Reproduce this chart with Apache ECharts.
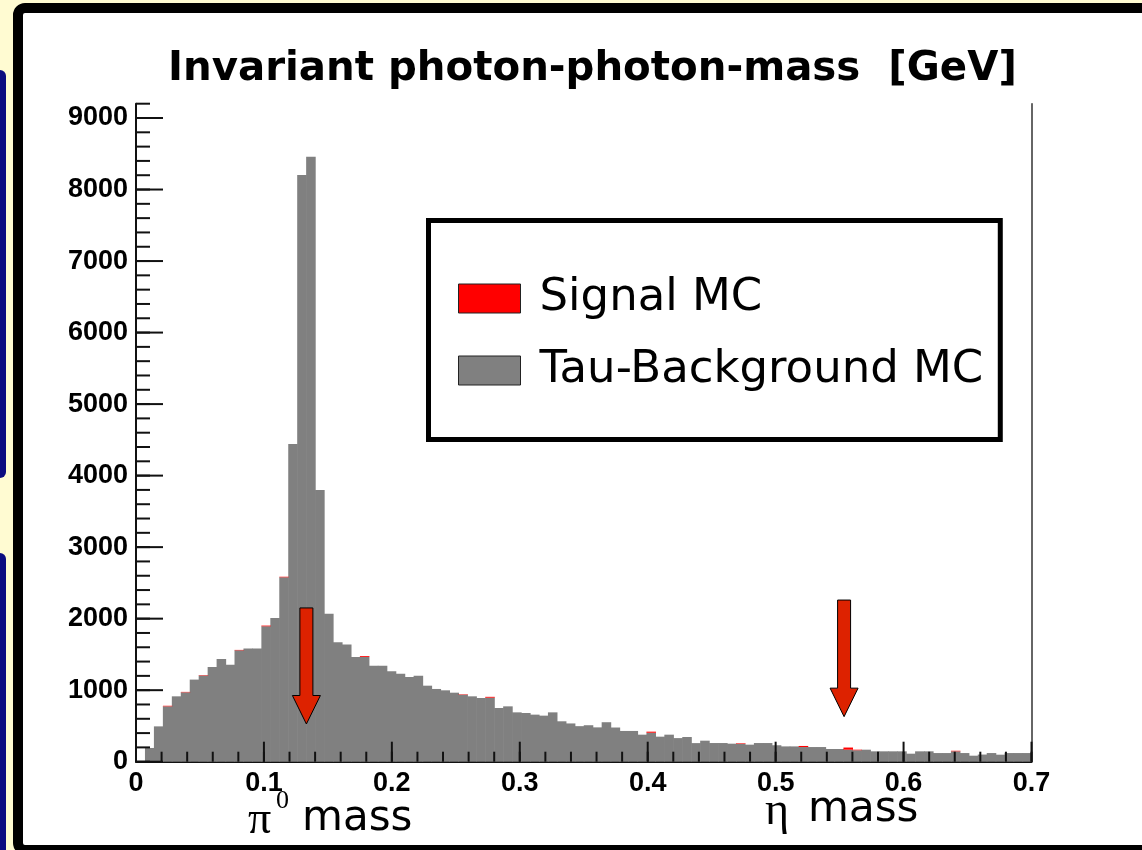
<!DOCTYPE html>
<html><head><meta charset="utf-8">
<script src="https://cdn.jsdelivr.net/npm/echarts@6/dist/echarts.min.js"></script>
<style>
html,body{margin:0;padding:0;width:1142px;height:850px;overflow:hidden;background:#fffbd2;}
#p1{position:absolute;left:0;top:70px;width:6px;height:408px;background:#0c0c80;border-radius:0 6px 6px 0;}
#p2{position:absolute;left:0;top:553px;width:6px;height:320px;background:#0c0c80;border-radius:0 6px 0 0;}
#frame{position:absolute;left:13px;top:3px;width:1200px;height:832px;border:10px solid #000;border-radius:12px;background:#fff;}
#chart{position:absolute;left:0;top:0;width:1142px;height:850px;}
</style></head>
<body>
<div id="p1"></div><div id="p2"></div><div id="frame"></div>
<div id="chart"></div>
<script>
// ---- data ----
const binWidth = 0.007; // GeV per bin, 100 bins from 0 to 0.7
const background = [
  0,192,494,774,914,970,1148,1204,1325,1437,
  1357,1557,1581,1581,1893,2010,2578,4442,8203,8459,
  3800,2070,1670,1637,1465,1465,1343,1343,1263,1231,
  1185,1203,1063,1017,998,965,937,914,891,895,
  751,774,690,681,658,644,690,565,535,497,
  510,480,552,478,430,430,378,405,350,378,
  330,345,260,294,261,261,252,250,238,261,
  261,230,214,214,205,205,205,178,178,168,
  160,168,145,145,145,145,112,145,145,121,
  121,145,121,84,100,121,98,121,121,121
];
const signal = [
  0,0,0,8,0,6,0,6,0,0,
  0,6,0,0,10,0,8,0,0,0,
  0,0,0,0,0,12,0,0,0,0,
  0,0,0,0,0,0,6,0,0,12,
  0,0,0,0,0,0,0,0,0,0,
  0,0,0,0,0,0,0,15,0,0,
  0,0,0,0,0,0,0,8,0,0,
  0,0,0,0,15,0,0,0,0,30,
  8,0,0,0,0,0,0,0,0,0,
  0,8,0,0,0,0,0,0,0,0
];
const xMajorTicks = [0,0.1,0.2,0.3,0.4,0.5,0.6,0.7];
const xTickLabels = ['0','0.1','0.2','0.3','0.4','0.5','0.6','0.7'];
const yMajorTicks = [0,1000,2000,3000,4000,5000,6000,7000,8000,9000];
const yTickLabels = ['0','1000','2000','3000','4000','5000','6000','7000','8000','9000'];
const xMinorStep = 0.02, yMinorStep = 200;
// arrow annotations: [x position, top value, tip value]
const arrows = [[0.1332,2150,527],[0.5535,2260,630]];
const seriesNames = ['Signal MC','Tau-Background MC'];

// ---- chart ----
const chart = echarts.init(document.getElementById('chart'), null, {renderer:'canvas'});
function lab(ticks, labels){ return function(v){ let k=0,b=1e9; ticks.forEach((t,i)=>{const d=Math.abs(t-v); if(d<b){b=d;k=i;}}); return labels[k]; }; }
const tickFont = {fontFamily:'Liberation Sans', fontWeight:'bold', fontSize:27, color:'#000'};
const lineCol = '#111';

const bgData = background.map((v,i)=>[i*binWidth,(i+1)*binWidth,0,v]);
const sigData = [];
signal.forEach((s,i)=>{ if(s>0) sigData.push([i*binWidth,(i+1)*binWidth,background[i],background[i]+s]); });

// tick marks drawn on top of the histogram: [axis (0=x,1=y), value, length px]
const xTickData = [], yTickData = [];
for (let i=0;i<=35;i++) xTickData.push([+(i*xMinorStep).toFixed(3), 0, 10]);
xMajorTicks.forEach(v=>xTickData.push([v, 0, 20]));
for (let i=0;i<=46;i++) yTickData.push([0, i*yMinorStep, 14]);
yMajorTicks.forEach(v=>yTickData.push([0, v, 27]));

function histItem(params, api){
  const a = api.coord([api.value(0), api.value(3)]);
  const b = api.coord([api.value(1), api.value(2)]);
  return {type:'rect', shape:{x:a[0], y:a[1], width:b[0]-a[0]+0.6, height:b[1]-a[1]},
          style:{fill: api.visual('color')}};
}
function xTickItem(params, api){
  const p = api.coord([api.value(0), api.value(1)]);
  return {type:'rect', shape:{x:p[0]-1, y:p[1]-api.value(2), width:2, height:api.value(2)}, style:{fill:lineCol}};
}
function yTickItem(params, api){
  const p = api.coord([api.value(0), api.value(1)]);
  return {type:'rect', shape:{x:p[0], y:p[1]-1, width:api.value(2), height:2}, style:{fill:lineCol}};
}
function arrowItem(params, api){
  const top = api.coord([api.value(0), api.value(1)]);
  const tip = api.coord([api.value(0), api.value(2)]);
  const cx = top[0], hw = 6.5, hh = 14, hl = 28.5;
  const base = tip[1]-hl;
  return {type:'polygon', shape:{points:[[cx-hw,top[1]],[cx+hw,top[1]],[cx+hw,base],[cx+hh,base],[cx,tip[1]],[cx-hh,base],[cx-hw,base]]},
          style:{fill:'#dd2200', stroke:'#000', lineWidth:1}};
}

const option = {
  animation:false,
  title:{text:'Invariant photon-photon-mass  [GeV]', left:168, top:50, padding:0,
    textStyle:{fontFamily:'DejaVu Sans', fontWeight:'bold', fontSize:40.3, color:'#000'}},
  legend:{data:seriesNames, orient:'vertical', left:428.5, top:220.5, padding:[53,17,44,29.5],
    itemWidth:62, itemHeight:29, itemGap:22, icon:'rect',
    itemStyle:{borderColor:'#222', borderWidth:1},
    backgroundColor:'#fff', borderColor:'#000', borderWidth:5,
    textStyle:{fontFamily:'DejaVu Sans', fontSize:45, color:'#000', lineHeight:50, padding:[0,0,0,14]}},
  grid:{left:136, right:110.5, top:103.7, bottom:88.3},
  xAxis:[
    {type:'value', min:0, max:0.7, position:'bottom',
      axisLine:{show:true, onZero:false, lineStyle:{color:lineCol, width:2}},
      axisTick:{show:false},
      axisLabel:Object.assign({customValues:xMajorTicks, formatter:lab(xMajorTicks,xTickLabels), margin:8}, tickFont),
      splitLine:{show:false}}
  ],
  yAxis:[
    {type:'value', min:0, max:9200, position:'left',
      axisLine:{show:true, onZero:false, lineStyle:{color:lineCol, width:2}},
      axisTick:{show:false},
      axisLabel:Object.assign({customValues:yMajorTicks, formatter:lab(yMajorTicks,yTickLabels), margin:8, padding:[8,0,0,0]}, tickFont),
      splitLine:{show:false}},
    {type:'value', min:0, max:9200, position:'right',
      axisLine:{show:true, onZero:false, lineStyle:{color:'#333', width:1.5}},
      axisTick:{show:false}, axisLabel:{show:false}, splitLine:{show:false}}
  ],
  series:[
    {name:'Tau-Background MC', type:'custom', xAxisIndex:0, yAxisIndex:0, itemStyle:{color:'#808080'},
      renderItem:histItem, data:bgData, z:2},
    {name:'Signal MC', type:'custom', xAxisIndex:0, yAxisIndex:0, itemStyle:{color:'#ff0000'},
      renderItem:histItem, data:sigData, z:2},
    {name:'xticks', type:'custom', xAxisIndex:0, yAxisIndex:0, renderItem:xTickItem, data:xTickData, z:10, clip:false, silent:true},
    {name:'yticks', type:'custom', xAxisIndex:0, yAxisIndex:0, renderItem:yTickItem, data:yTickData, z:10, clip:false, silent:true},
    {name:'arrows', type:'custom', xAxisIndex:0, yAxisIndex:0, renderItem:arrowItem, data:arrows, z:20, clip:false}
  ],
  graphic:[
    {type:'text', left:248, top:798, style:{text:'π', font:'46px "Liberation Serif"', fill:'#000'}},
    {type:'text', left:276, top:788, style:{text:'0', font:'26px "Liberation Serif"', fill:'#000'}},
    {type:'text', left:302, top:798, style:{text:'mass', font:'42px "DejaVu Sans"', fill:'#000'}},
    {type:'text', left:765, top:789, style:{text:'η', font:'46px "Liberation Serif"', fill:'#000'}},
    {type:'text', left:808, top:789, style:{text:'mass', font:'42px "DejaVu Sans"', fill:'#000'}}
  ]
};
chart.setOption(option);
</script>
</body></html>
